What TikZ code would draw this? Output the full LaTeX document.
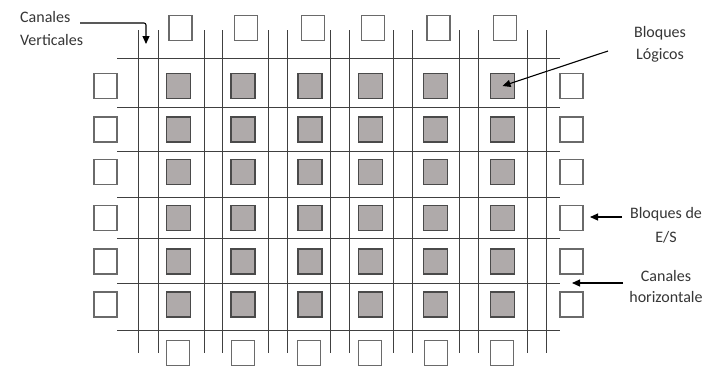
\documentclass[tikz,border=0pt]{standalone}
\usepackage{fontspec}
\setmainfont{Carlito}
\usetikzlibrary{arrows.meta}
\definecolor{gridc}{HTML}{404040}
\definecolor{boxc}{HTML}{6A6A6A}
\definecolor{grayfill}{HTML}{AFAAAA}
\definecolor{txtc}{HTML}{363636}
\tikzset{
  gridline/.style={draw=gridc, line width=0.95pt},
  logicbox/.style={draw=boxc!70!black, fill=grayfill, line width=1.4pt, minimum width=24pt, minimum height=25pt, inner sep=0pt},
  iobox/.style={draw=boxc, fill=white, line width=1.4pt, minimum width=23pt, minimum height=25pt, inner sep=0pt},
  lbl/.style={text=txtc, font=\fontsize{16pt}{22pt}\selectfont, inner sep=0pt},
  pointer/.style={draw=black, line width=1.1pt, -{Triangle[length=8pt,width=7pt]}}
}
\begin{document}
\begin{tikzpicture}[x=1pt,y=-1pt]
\useasboundingbox[fill=white] (0,0) rectangle (714,368);
% vertical channels (pairs of lines)
\foreach \xv in {138,158,204,222,268,287,330,349,393,412,459,478,527,546}
  \draw[gridline] (\xv,30) -- (\xv,353);
% horizontal channels
\foreach \yh in {58,107,151,197,238,283,330}
  \draw[gridline] (117,\yh) -- (560,\yh);
% logic blocks
\foreach \xc [count=\i] in {178.5,243,310,370.5,435.5,502.5}
  \foreach \yc [count=\j] in {86,129.5,172,218,261.5,304.5}
    \node[logicbox] (g-\j-\i) at (\xc,\yc) {};
% I/O blocks left and right
\foreach \yc [count=\j] in {86,129.5,172,218,261.5,304.5} {
  \node[iobox] (l-\j) at (105.5,\yc) {};
  \node[iobox] (r-\j) at (571.5,\yc) {};
}
% I/O blocks top and bottom
\foreach \xc [count=\i] in {180.5,246,313,373,438.5,505}
  \node[iobox] (t-\i) at (\xc,28) {};
\foreach \xc [count=\i] in {178,243,309,370,436,502}
  \node[iobox] (b-\i) at (\xc,353) {};
% labels
\node[lbl, anchor=base west] (cv1) at (20,22) {Canales};
\node[lbl, anchor=base west] (cv2) at (20,45) {Verticales};
\node[lbl, anchor=base] (bl1) at (660,37) {Bloques};
\node[lbl, anchor=base] (bl2) at (660,59) {Lógicos};
\node[lbl, anchor=base] (be1) at (666,218) {Bloques de};
\node[lbl, anchor=base] (be2) at (666,242) {E/S};
\node[lbl, anchor=base] (ch1) at (666,281) {Canales};
\node[lbl, anchor=base] (ch2) at (666,302) {horizontale};
% arrows
\coordinate (cvs) at (80,23);
\coordinate (cvt) at (146,44);
\draw[pointer, rounded corners=2pt] (cvs) -| (cvt);
\coordinate (bls) at (608,51);
\draw[pointer] (bls) -- (g-1-6.center);
\coordinate (bes) at (622,217);
\coordinate (bet) at (590,217);
\draw[pointer] (bes) -- (bet);
\coordinate (chs) at (623,283);
\coordinate (cht) at (572,283);
\draw[pointer] (chs) -- (cht);
\end{tikzpicture}
\end{document}
